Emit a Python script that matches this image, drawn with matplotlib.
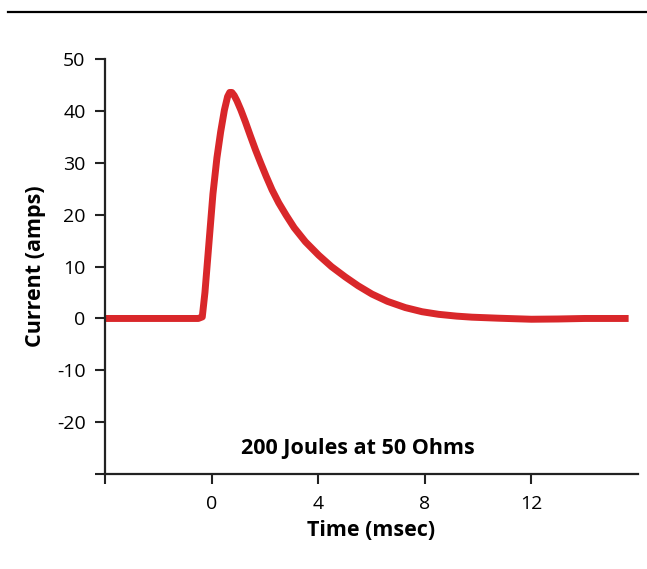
import matplotlib.pyplot as plt
from matplotlib.lines import Line2D

plt.rcParams['font.family'] = ['Open Sans', 'DejaVu Sans']

# waveform (msec, amps)
time_ms = [-4.0, -0.5, -0.35, -0.25, -0.1, 0.05, 0.2, 0.34, 0.48, 0.6, 0.68,
           0.76, 0.85, 0.95, 1.1, 1.27, 1.45, 1.65, 1.85, 2.05, 2.27, 2.52,
           2.8, 3.1, 3.52, 4.02, 4.5, 5.02, 5.5, 6.02, 6.6, 7.27, 7.9, 8.52,
           9.2, 9.77, 10.77, 12.0, 13.0, 14.0, 15.65]
current_a = [0.0, 0.0, 0.3, 5.0, 14.5, 24.0, 31.0, 36.0, 40.2, 42.8, 43.6,
             43.6, 43.0, 42.0, 40.2, 37.9, 35.3, 32.5, 29.9, 27.4, 24.8, 22.3,
             19.9, 17.5, 14.8, 12.2, 10.0, 8.0, 6.3, 4.7, 3.3, 2.1, 1.3, 0.8,
             0.45, 0.25, 0.05, -0.15, -0.1, 0.0, 0.0]

x_ticks = [-4, 0, 4, 8, 12]
x_tick_labels = ['', '0', '4', '8', '12']
y_ticks = [50, 40, 30, 20, 10, 0, -10, -20, -30]
y_tick_labels = ['50', '40', '30', '20', '10', '0', '-10', '-20', '']

fig = plt.figure(figsize=(6.47, 5.69), dpi=100)
ax = fig.add_axes([0.1623, 0.167, 0.8237, 0.7288])

ax.plot(time_ms, current_a, color='#d9272a', lw=5, solid_capstyle='butt',
        solid_joinstyle='round')

ax.set_xlim(-4, 16)
ax.set_ylim(-30, 50)
ax.set_xticks(x_ticks)
ax.set_xticklabels(x_tick_labels)
ax.set_yticks(y_ticks)
ax.set_yticklabels(y_tick_labels)

for s in ['top', 'right']:
    ax.spines[s].set_visible(False)
for s in ['left', 'bottom']:
    ax.spines[s].set_linewidth(1.6)
    ax.spines[s].set_color('#222222')

ax.tick_params(axis='both', direction='out', length=7, width=1.5,
               colors='#222222', labelsize=14, labelcolor='black')
ax.tick_params(axis='x', pad=8)
ax.tick_params(axis='y', pad=7)

ax.set_xlabel('Time (msec)', fontsize=15.5, fontweight='bold', labelpad=5)
ax.set_ylabel('Current (amps)', fontsize=15.5, fontweight='bold', labelpad=8)

ax.text(5.5, -25, '200 Joules at 50 Ohms', fontsize=15.5, fontweight='bold',
        ha='center', va='center')

# rule across the top of the figure
fig.add_artist(Line2D([0.012, 1.0], [1 - 12 / 569, 1 - 12 / 569],
                      color='black', lw=1.6, transform=fig.transFigure))

fig.savefig('out.png', dpi=100)
